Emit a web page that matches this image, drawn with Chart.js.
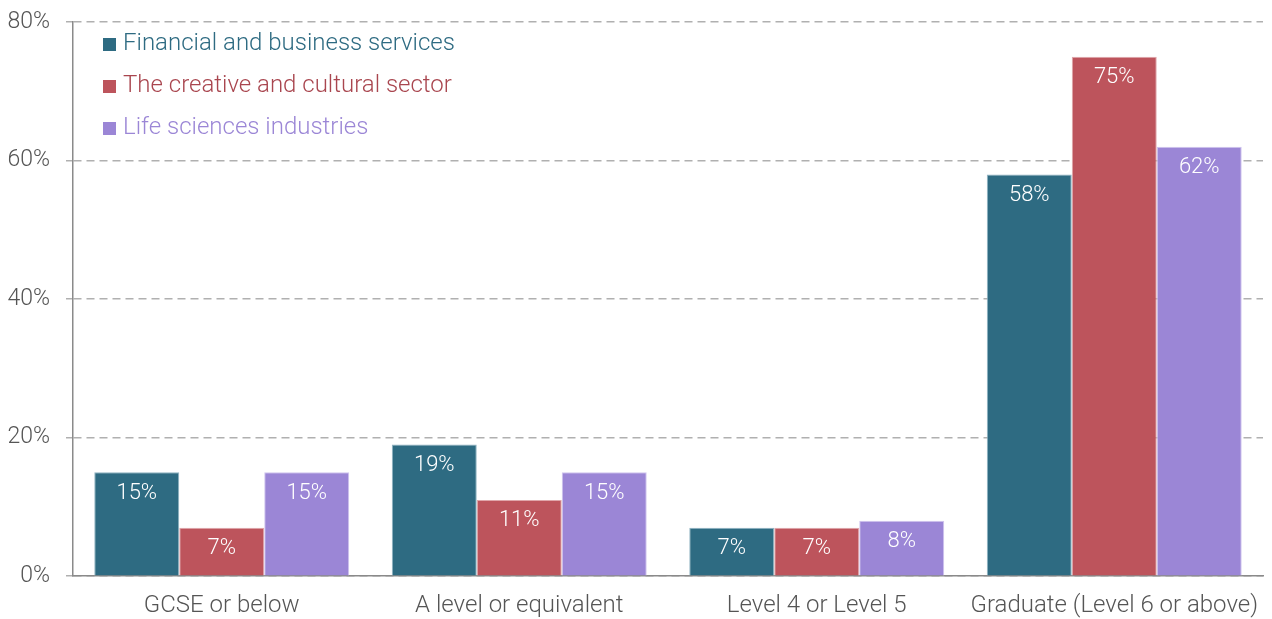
<!DOCTYPE html>
<html>
<head>
<meta charset="utf-8">
<script src="https://cdn.jsdelivr.net/npm/chart.js@4"></script>
<style>
    html, body { margin: 0; padding: 0; background: #fff; }
    #wrap { width: 1272px; height: 619px; position: relative; }
</style>
</head>
<body>
<div id="wrap"><canvas id="qualChart"></canvas></div>
<script>
// Qualification levels (x axis)
const categories = ['GCSE or below', 'A level or equivalent', 'Level 4 or Level 5', 'Graduate (Level 6 or above)'];

// Share of workforce, per sector
const financialValues = [15, 19, 7, 58];
const creativeValues = [7, 11, 7, 75];
const lifeSciencesValues = [15, 15, 8, 62];

const seriesNames = ['Financial and business services', 'The creative and cultural sector', 'Life sciences industries'];
const yTicks = [0, 20, 40, 60, 80];

const fontFamily = 'Roboto, "Noto Sans", sans-serif';

const sectorStyles = [
    { fill: '#2e6b82', edge: '#8fb3c2', text: '#2e6b82' },
    { fill: '#bd545c', edge: '#e0a6aa', text: '#a9464f' },
    { fill: '#9b86d6', edge: '#cfc4ee', text: '#9b86d6' }
];

// White value labels near the top of each bar
const barLabels = {
    id: 'barLabels',
    afterDatasetsDraw(chart) {
        const ctx = chart.ctx;
        ctx.save();
        ctx.fillStyle = '#ffffff';
        ctx.font = '300 22px ' + fontFamily;
        ctx.textAlign = 'center';
        ctx.textBaseline = 'middle';
        chart.data.datasets.forEach((ds, i) => {
            chart.getDatasetMeta(i).data.forEach((bar, j) => {
                ctx.fillText(ds.data[j] + '%', bar.x, bar.y + 21);
            });
        });
        ctx.restore();
    }
};

// Vertical legend inside the plot, top left
const insideLegend = {
    id: 'insideLegend',
    afterDraw(chart) {
        const ctx = chart.ctx;
        const left = chart.chartArea.left + 30;
        const top = chart.chartArea.top + 22;
        ctx.save();
        ctx.font = '300 24px ' + fontFamily;
        ctx.textBaseline = 'middle';
        ctx.textAlign = 'left';
        chart.data.datasets.forEach((ds, i) => {
            const y = top + i * 42;
            ctx.fillStyle = sectorStyles[i].fill;
            ctx.fillRect(left, y - 6, 13, 13);
            ctx.fillStyle = sectorStyles[i].text;
            ctx.fillText(ds.label, left + 20, y);
        });
        ctx.restore();
    }
};

const datasets = [financialValues, creativeValues, lifeSciencesValues].map((values, i) => ({
    label: seriesNames[i],
    data: values,
    backgroundColor: sectorStyles[i].fill,
    borderColor: sectorStyles[i].edge,
    borderWidth: 1,
    categoryPercentage: 0.857,
    barPercentage: 1.0
}));

const ctx = document.getElementById('qualChart').getContext('2d');
new Chart(ctx, {
    type: 'bar',
    data: {
        labels: categories,
        datasets: datasets
    },
    options: {
        responsive: true,
        maintainAspectRatio: false,
        animation: false,
        layout: {
            padding: { top: 22, right: 9, bottom: -8, left: 0 }
        },
        plugins: {
            legend: { display: false },
            tooltip: { enabled: false }
        },
        scales: {
            x: {
                grid: { display: false },
                border: { display: true, color: '#8a8a8a', width: 1.5 },
                ticks: {
                    color: '#555555',
                    font: { family: fontFamily, size: 24, weight: 300 },
                    padding: 7
                }
            },
            y: {
                min: yTicks[0],
                max: yTicks[yTicks.length - 1],
                afterBuildTicks: (axis) => {
                    axis.ticks = yTicks.map(v => ({ value: v }));
                },
                afterFit: (axis) => {
                    axis.width = 73;
                    axis.paddingTop = 0;
                },
                grid: {
                    color: '#b0b0b0',
                    lineWidth: 1.5,
                    tickLength: 7
                },
                border: { display: true, color: '#8a8a8a', width: 1.5, dash: [8, 5] },
                ticks: {
                    color: '#555555',
                    font: { family: fontFamily, size: 23, weight: 300 },
                    padding: 16,
                    callback: v => v + '%'
                }
            }
        }
    },
    plugins: [barLabels, insideLegend]
});
</script>
</body>
</html>
